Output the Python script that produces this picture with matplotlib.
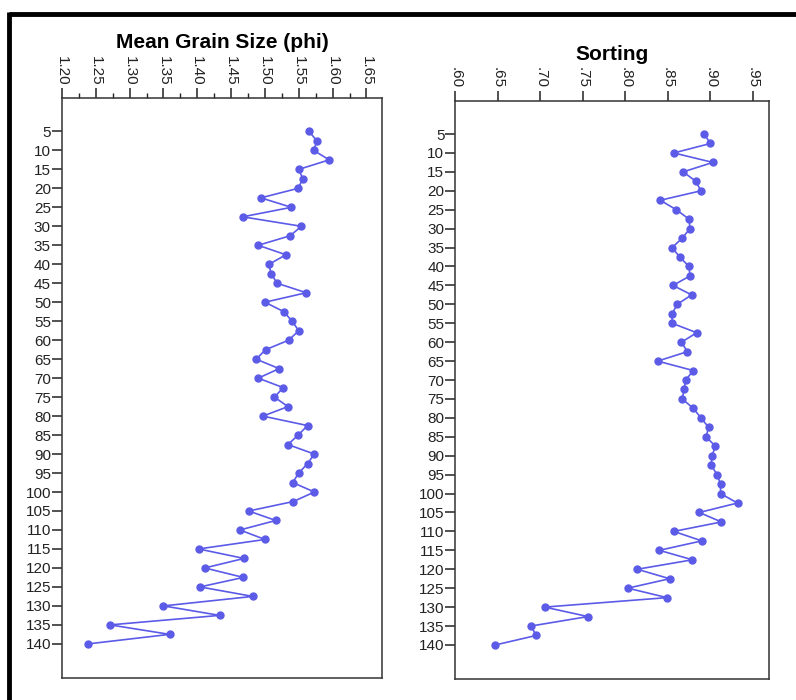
import numpy as np
import matplotlib.pyplot as plt
from matplotlib.ticker import MultipleLocator, FuncFormatter
from matplotlib.lines import Line2D

plt.rcParams['font.family'] = ['Liberation Sans', 'DejaVu Sans']

# sample depths (every 2.5 from 5 to 140)
depth = [5, 7.5, 10, 12.5, 15, 17.5, 20, 22.5, 25, 27.5, 30, 32.5, 35, 37.5,
         40, 42.5, 45, 47.5, 50, 52.5, 55, 57.5, 60, 62.5, 65, 67.5, 70, 72.5,
         75, 77.5, 80, 82.5, 85, 87.5, 90, 92.5, 95, 97.5, 100, 102.5, 105,
         107.5, 110, 112.5, 115, 117.5, 120, 122.5, 125, 127.5, 130, 132.5,
         135, 137.5, 140]

mean_phi = [1.565, 1.577, 1.572, 1.595, 1.550, 1.556, 1.549, 1.494, 1.539,
            1.467, 1.554, 1.537, 1.490, 1.531, 1.506, 1.509, 1.518, 1.561,
            1.500, 1.528, 1.540, 1.550, 1.535, 1.501, 1.487, 1.521, 1.490,
            1.527, 1.514, 1.534, 1.497, 1.563, 1.549, 1.534, 1.573, 1.563,
            1.550, 1.541, 1.573, 1.542, 1.476, 1.516, 1.463, 1.500, 1.402,
            1.469, 1.411, 1.468, 1.404, 1.482, 1.350, 1.433, 1.271, 1.359,
            1.239]

sorting = [0.893, 0.900, 0.857, 0.903, 0.868, 0.883, 0.889, 0.841, 0.860,
           0.875, 0.876, 0.867, 0.855, 0.864, 0.875, 0.876, 0.856, 0.878,
           0.861, 0.855, 0.855, 0.884, 0.866, 0.873, 0.838, 0.880, 0.871,
           0.869, 0.867, 0.880, 0.889, 0.898, 0.895, 0.906, 0.902, 0.901,
           0.908, 0.912, 0.912, 0.932, 0.887, 0.913, 0.857, 0.890, 0.840,
           0.879, 0.814, 0.852, 0.803, 0.849, 0.705, 0.756, 0.689, 0.695,
           0.647]

line_color = '#5b5be8'

fig = plt.figure(figsize=(7.96, 7.0), dpi=100)

ax1 = fig.add_axes([0.0779, 0.0314, 0.4020, 0.8286])
ax2 = fig.add_axes([0.5722, 0.0300, 0.3938, 0.8261])


def style_axis(ax, xlim, fmt, minor):
    ax.set_xlim(*xlim)
    ax.set_ylim(149, -3.8)
    ax.xaxis.tick_top()
    ax.xaxis.set_major_locator(MultipleLocator(0.05))
    if minor:
        ax.xaxis.set_minor_locator(MultipleLocator(0.025))
    ax.xaxis.set_major_formatter(FuncFormatter(fmt))
    ax.set_yticks(np.arange(5, 141, 5))
    ax.tick_params(axis='x', which='major', length=7, width=1.1, pad=2,
                   labelsize=11, labelrotation=270, colors='#222222')
    ax.tick_params(axis='x', which='minor', length=3.5, width=1.0,
                   colors='#222222')
    ax.tick_params(axis='y', length=7, width=1.1, pad=1, labelsize=11,
                   colors='#222222')
    for sp in ax.spines.values():
        sp.set_color('#333333')
        sp.set_linewidth(1.1)


style_axis(ax1, (1.20, 1.673), lambda v, p: f'{v:.2f}', True)
style_axis(ax2, (0.60, 0.969), lambda v, p: f'{v:.2f}'.lstrip('0'), False)

ax1.plot(mean_phi, depth, color=line_color, lw=1.2, marker='o', ms=5)
ax2.plot(sorting, depth, color=line_color, lw=1.2, marker='o', ms=5)

fig.text(222 / 796, 1 - 42 / 700, 'Mean Grain Size (phi)', ha='center',
         va='center', fontsize=15, fontweight='bold')
fig.text(612 / 796, 1 - 55 / 700, 'Sorting', ha='center', va='center',
         fontsize=15, fontweight='bold')

# heavy outer frame along the top and left edges
fig.add_artist(Line2D([9 / 796, 1.0], [1 - 14 / 700, 1 - 14 / 700],
                      transform=fig.transFigure, color='black', lw=3.5,
                      solid_capstyle='butt'))
fig.add_artist(Line2D([9 / 796, 9 / 796], [0.0, 1 - 12.3 / 700],
                      transform=fig.transFigure, color='black', lw=3.5,
                      solid_capstyle='butt'))

fig.savefig('out.png', dpi=100)
